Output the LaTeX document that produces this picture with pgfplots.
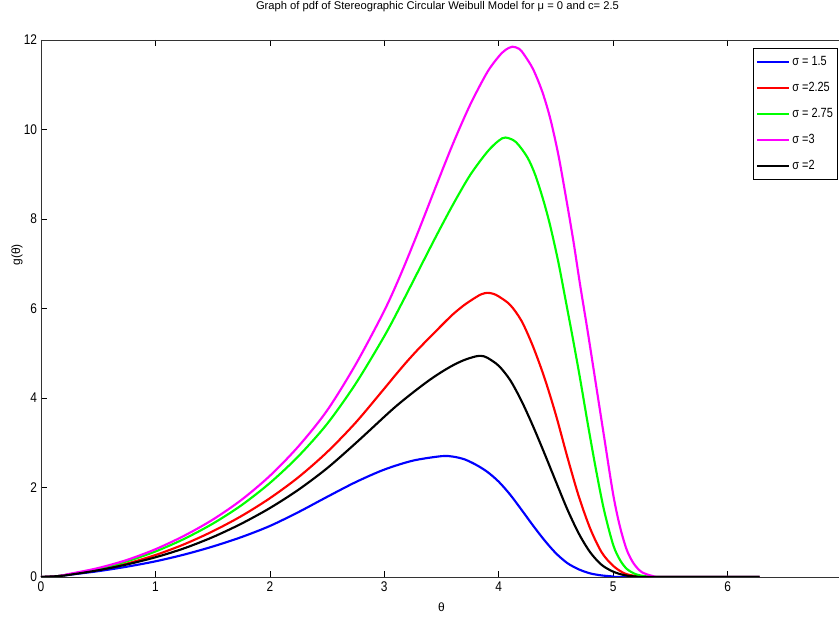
\documentclass[border=0pt]{standalone}
\usepackage{fontspec}
\setmainfont{Liberation Sans}
\usepackage{pgfplots}
\pgfplotsset{compat=1.18}
\usetikzlibrary{calc}
\definecolor{mblue}{rgb}{0,0,1}
\definecolor{mred}{rgb}{1,0,0}
\definecolor{mgreen}{rgb}{0,1,0}
\definecolor{mmag}{rgb}{1,0,1}

\begin{document}
\begin{tikzpicture}
\begin{axis}[
  name=ax,
  scale only axis,
  width=600.75pt, height=402.75pt,
  xmin=0, xmax=7, ymin=0, ymax=12,
  xtick={0,1,2,3,4,5,6},
  ytick={0,2,4,6,8,10,12},
  ytick pos=left,
  tick align=inside,
  major tick length=4.5pt,
  tick style={black, line width=0.5pt},
  axis line style={line width=0.7pt, black!80},
  /pgf/number format/assume math mode=true,
  tick label style={font=\fontsize{10.5}{12}\selectfont, xscale=0.85},
  title={Graph of pdf of Stereographic Circular Weibull Model for μ = 0 and c= 2.5},
  title style={font=\fontsize{8.4}{10}\selectfont, at={(axis description cs:0.495,1)}, anchor=base, yshift=16.5pt},
  xlabel={θ},
  xlabel style={font=\fontsize{9}{10}\selectfont, at={(axis description cs:0.5,0)}, anchor=center, yshift=-22.5pt},
  ylabel={g(θ)},
  ylabel style={font=\fontsize{9}{10}\selectfont, at={(axis description cs:-0.03,0.6)}, anchor=center},
  legend style={at={(axis description cs:0.995,0.985)}, anchor=north east, draw=black,
    font=\fontsize{10}{11}\selectfont, row sep=7pt, inner xsep=2pt, inner ysep=4pt,
    nodes={xscale=0.82}},
  legend cell align=left,
  legend image code/.code={\draw[#1] (0pt,0pt) -- (24pt,0pt);},
]
% sigma = 1.5
\addplot[mblue, line width=1.6pt, smooth, tension=0.5] coordinates {
(0,0) (0.15,0.02) (0.25,0.05) (0.5,0.13) (0.75,0.23) (1,0.35) (1.25,0.50) (1.5,0.68)
(1.75,0.89) (2,1.14) (2.25,1.45) (2.5,1.79) (2.75,2.12) (3,2.40) (3.25,2.60) (3.5,2.70)
(3.6,2.69) (3.7,2.63) (3.8,2.51) (3.9,2.35) (4.0,2.13) (4.1,1.84) (4.2,1.50) (4.3,1.15)
(4.4,0.82) (4.5,0.53) (4.6,0.31) (4.7,0.17) (4.8,0.08) (4.9,0.035) (5.0,0.012) (5.1,0)
(6.28,0)};
% sigma = 2.25
\addplot[mred, line width=1.6pt, smooth, tension=0.5] coordinates {
(0,0) (0.15,0.02) (0.25,0.06) (0.5,0.16) (0.75,0.30) (1,0.49) (1.25,0.73) (1.5,1.02)
(1.75,1.36) (2,1.76) (2.25,2.23) (2.5,2.79) (2.75,3.45) (3,4.21) (3.1,4.52) (3.2,4.82)
(3.3,5.10) (3.4,5.36) (3.5,5.62) (3.6,5.87) (3.7,6.08) (3.8,6.25) (3.85,6.32) (3.9,6.35)
(3.95,6.33) (4.0,6.27) (4.1,6.08) (4.2,5.72) (4.3,5.15) (4.4,4.45) (4.5,3.62) (4.6,2.68)
(4.7,1.80) (4.8,1.08) (4.9,0.55) (5.0,0.25) (5.1,0.08) (5.2,0.02) (5.3,0) (6.28,0)};
% sigma = 2.75
\addplot[mgreen, line width=1.6pt, smooth, tension=0.5] coordinates {
(0,0) (0.15,0.02) (0.25,0.06) (0.5,0.18) (0.75,0.35) (1,0.57) (1.25,0.85) (1.5,1.19)
(1.75,1.60) (2,2.10) (2.25,2.70) (2.5,3.42) (2.75,4.32) (3,5.38) (3.15,6.10) (3.3,6.85)
(3.45,7.60) (3.6,8.32) (3.75,8.98) (3.9,9.50) (4.0,9.75) (4.06,9.82) (4.15,9.72) (4.25,9.38)
(4.32,8.98) (4.39,8.42) (4.45,7.85) (4.52,7.05) (4.58,6.25) (4.65,5.30) (4.71,4.45)
(4.78,3.40) (4.85,2.40) (4.92,1.50) (5.0,0.72) (5.06,0.38) (5.12,0.18) (5.2,0.06)
(5.3,0.01) (5.4,0) (6.28,0)};
% sigma = 3
\addplot[mmag, line width=1.6pt, smooth, tension=0.5] coordinates {
(0,0) (0.15,0.02) (0.25,0.07) (0.5,0.20) (0.75,0.38) (1,0.62) (1.25,0.92) (1.5,1.28)
(1.75,1.72) (2,2.26) (2.25,2.92) (2.5,3.72) (2.75,4.75) (3,5.95) (3.15,6.80) (3.3,7.74)
(3.45,8.72) (3.6,9.68) (3.75,10.55) (3.9,11.28) (4.0,11.63) (4.06,11.78) (4.12,11.85)
(4.18,11.80) (4.22,11.68) (4.30,11.35) (4.38,10.85) (4.45,10.25) (4.52,9.45) (4.58,8.60)
(4.65,7.55) (4.71,6.55) (4.78,5.45) (4.85,4.30) (4.92,3.15) (5.0,1.85) (5.06,1.12)
(5.12,0.60) (5.18,0.30) (5.25,0.11) (5.35,0.02) (5.45,0) (6.28,0)};
% sigma = 2
\addplot[black, line width=1.6pt, smooth, tension=0.5] coordinates {
(0,0) (0.15,0.02) (0.25,0.05) (0.5,0.15) (0.75,0.28) (1,0.44) (1.25,0.64) (1.5,0.89)
(1.75,1.19) (2,1.54) (2.25,1.95) (2.5,2.43) (2.75,2.99) (3,3.58) (3.1,3.81) (3.2,4.02)
(3.3,4.22) (3.4,4.41) (3.5,4.58) (3.6,4.73) (3.7,4.85) (3.8,4.93) (3.85,4.94) (3.9,4.90)
(4.0,4.72) (4.1,4.40) (4.2,3.93) (4.3,3.37) (4.4,2.76) (4.5,2.13) (4.6,1.51) (4.7,0.97)
(4.8,0.55) (4.9,0.27) (5.0,0.12) (5.1,0.04) (5.2,0.01) (5.3,0) (6.28,0)};
\legend{σ = 1.5, σ =2.25, σ = 2.75, σ =3, σ =2}
\end{axis}
\pgfresetboundingbox
\path[use as bounding box] ($(ax.south west)+(-30.75pt,-39.75pt)$) rectangle ($(ax.south west)+(598.5pt,432.75pt)$);
\end{tikzpicture}
\end{document}
